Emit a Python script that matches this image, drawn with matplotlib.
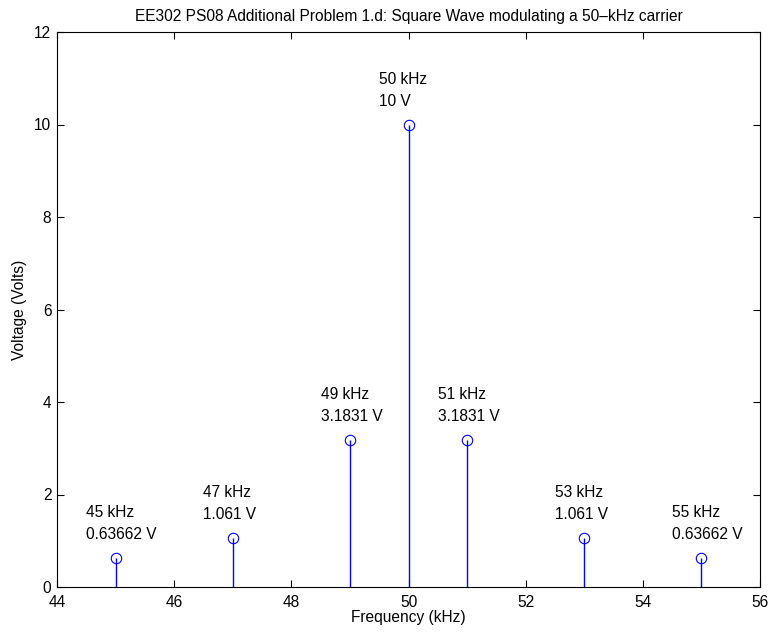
import matplotlib.pyplot as plt

plt.rcParams['font.family'] = ['Liberation Sans', 'DejaVu Sans']

freqs_khz = [45, 47, 49, 50, 51, 53, 55]
volts = [0.63662, 1.061, 3.1831, 10, 3.1831, 1.061, 0.63662]
volt_labels = ['0.63662 V', '1.061 V', '3.1831 V', '10 V', '3.1831 V', '1.061 V', '0.63662 V']


def graph_plot(freqs, amps, labels):
    """Stem plot of the AM spectrum, MATLAB style."""
    fs = 11.2
    fig = plt.figure(figsize=(7.72, 6.33), dpi=100)
    ax = fig.add_axes([57 / 772, 46 / 633, 703 / 772, 555 / 633])

    markers, stems, base = ax.stem(freqs, amps, linefmt='b-', markerfmt='bo', basefmt=' ')
    markers.set_markerfacecolor('none')
    markers.set_markersize(7.5)
    markers.set_markeredgewidth(0.8)
    stems.set_linewidth(1.0)

    for f, a, lab in zip(freqs, amps, labels):
        ax.text(f - 0.5, a + 0.98, '%d kHz' % f, fontsize=fs, va='center', ha='left')
        ax.text(f - 0.5, a + 0.50, lab, fontsize=fs, va='center', ha='left')

    ax.set_xlim(44, 56)
    ax.set_ylim(0, 12)
    ax.set_xticks(range(44, 57, 2))
    ax.set_yticks(range(0, 13, 2))
    ax.tick_params(direction='in', top=True, right=True, labelsize=fs, length=5)
    ax.tick_params(axis='x', pad=6)
    ax.tick_params(axis='y', pad=4)
    for s in ax.spines.values():
        s.set_linewidth(0.8)
    ax.set_xlabel('Frequency (kHz)', fontsize=fs, labelpad=0)
    ax.set_ylabel('Voltage (Volts)', fontsize=fs, labelpad=5)
    ax.set_title('EE302 PS08 Additional Problem 1.d: Square Wave modulating a 50\u2013kHz carrier',
                 fontsize=fs, pad=8)
    fig.savefig('out.png', dpi=100)


def main():
    graph_plot(freqs_khz, volts, volt_labels)


if __name__ == "__main__":
    main()
